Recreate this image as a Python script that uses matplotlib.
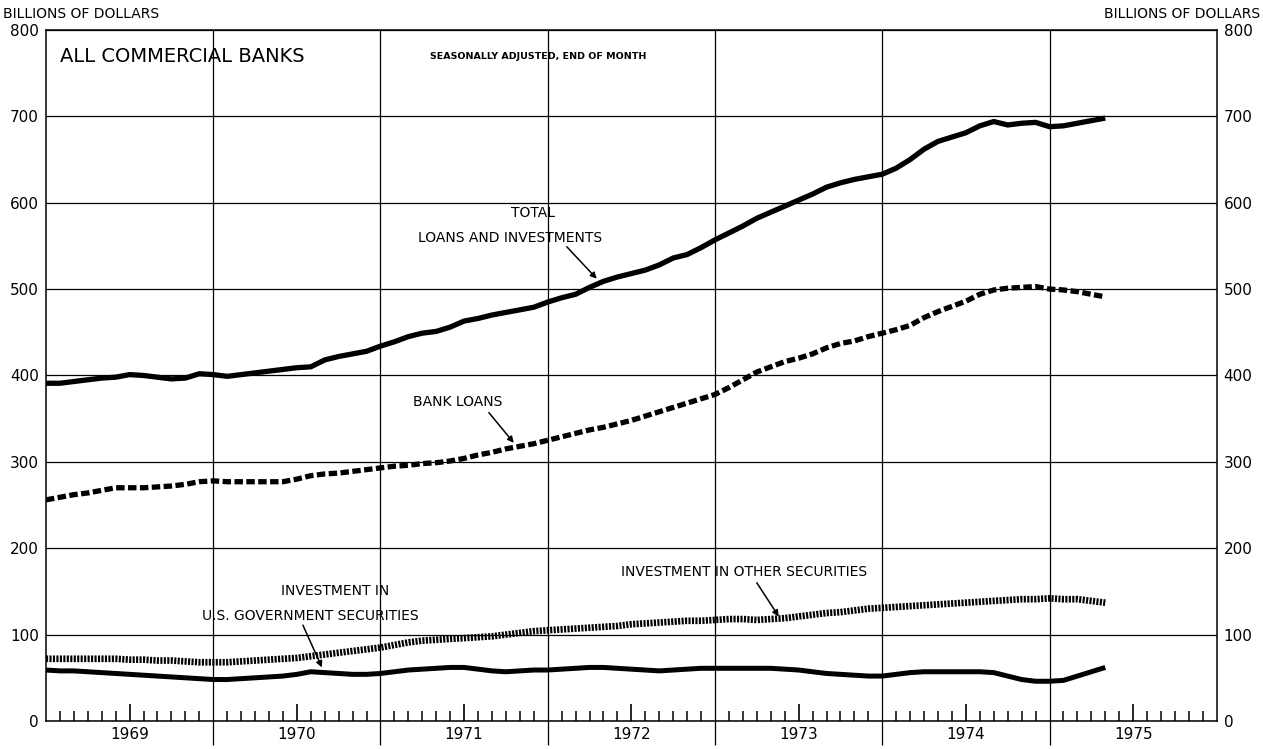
import numpy as np
import matplotlib.pyplot as plt

plt.rcParams['font.family'] = ['DejaVu Sans']

# monthly, Jan 1969 .. May 1975, billions of dollars
years = [1969, 1970, 1971, 1972, 1973, 1974, 1975]

total_loans_inv = [391, 391, 393, 395, 397, 398, 401, 400, 398, 396, 397, 402,
                   401, 399, 401, 403, 405, 407, 409, 410, 418, 422, 425, 428,
                   434, 439, 445, 449, 451, 456, 463, 466, 470, 473, 476, 479,
                   485, 490, 494, 502, 509, 514, 518, 522, 528, 536, 540, 548,
                   557, 565, 573, 582, 589, 596, 603, 610, 618, 623, 627, 630,
                   633, 640, 650, 662, 671, 676, 681, 689, 694, 690, 692, 693,
                   688, 689, 692, 695, 698]

bank_loans = [256, 259, 262, 264, 267, 270, 270, 270, 271, 272, 274, 277,
              278, 277, 277, 277, 277, 277, 280, 284, 286, 287, 289, 291,
              293, 295, 296, 298, 299, 301, 304, 308, 311, 315, 318, 321,
              325, 329, 333, 337, 340, 344, 348, 353, 358, 363, 368, 373,
              378, 386, 395, 404, 410, 416, 420, 425, 432, 437, 440, 445,
              449, 453, 458, 467, 474, 480, 486, 494, 499, 501, 502, 503,
              500, 499, 497, 494, 491]

other_securities = [72, 72, 72, 72, 72, 72, 71, 71, 70, 70, 69, 68,
                    68, 68, 69, 70, 71, 72, 73, 75, 77, 79, 81, 83,
                    85, 88, 91, 93, 94, 95, 96, 97, 98, 100, 102, 104,
                    105, 106, 107, 108, 109, 110, 112, 113, 114, 115, 116, 116,
                    117, 118, 118, 117, 118, 119, 121, 123, 125, 126, 128, 130,
                    131, 132, 133, 134, 135, 136, 137, 138, 139, 140, 141, 141,
                    142, 141, 141, 139, 137]

us_gov_securities = [59, 58, 58, 57, 56, 55, 54, 53, 52, 51, 50, 49,
                     48, 48, 49, 50, 51, 52, 54, 57, 56, 55, 54, 54,
                     55, 57, 59, 60, 61, 62, 62, 60, 58, 57, 58, 59,
                     59, 60, 61, 62, 62, 61, 60, 59, 58, 59, 60, 61,
                     61, 61, 61, 61, 61, 60, 59, 57, 55, 54, 53, 52,
                     52, 54, 56, 57, 57, 57, 57, 57, 56, 52, 48, 46,
                     46, 47, 52, 57, 62]

months = years[0] + np.arange(len(total_loans_inv)) / 12

fig = plt.figure(figsize=(12.63, 7.49), dpi=100)
ax = fig.add_axes([0.0364, 0.0374, 0.927, 0.9226])

# ── series ────────────────────────────────────────────
ax.plot(months, total_loans_inv, color='black', lw=3.8, solid_capstyle='butt')
ax.plot(months, bank_loans, color='black', lw=3.8, linestyle=(0, (1.6, 0.65)))
ax.plot(months, other_securities, color='black', lw=4.8, linestyle=(0, (0.32, 0.2)))
ax.plot(months, us_gov_securities, color='black', lw=3.6, solid_capstyle='butt')

# ── grid / frame ─────────────────────────────────────
ax.set_xlim(1969, 1976)
ax.set_ylim(0, 800)
ax.set_yticks(range(0, 900, 100))
ax.set_yticklabels([str(v) for v in range(0, 900, 100)])
ax.yaxis.grid(True, color='black', lw=0.9)
ax.set_axisbelow(True)
ax.vlines(years[1:], -28, 800, color='black', lw=0.9, clip_on=False)
for s in ax.spines.values():
    s.set_linewidth(1.1)

ax.set_xticks([y + 0.5 for y in years])
ax.set_xticklabels([str(y) for y in years])
minor = [y + m / 12 for y in years for m in range(1, 12) if m != 6]
ax.set_xticks(minor, minor=True)
ax.tick_params(axis='x', which='major', direction='in', length=12, width=1.2,
               pad=4, labelsize=11)
ax.tick_params(axis='x', which='minor', direction='in', length=7, width=1.1)
ax.tick_params(axis='y', length=0, pad=5, labelleft=True, labelright=True,
               labelsize=11)

# ── labels ───────────────────────────────────────────
fig.text(0.002, 0.981, 'BILLIONS OF DOLLARS', fontsize=10, ha='left', va='center')
fig.text(0.998, 0.981, 'BILLIONS OF DOLLARS', fontsize=10, ha='right', va='center')
ax.text(1969.084, 769, 'ALL COMMERCIAL BANKS', fontsize=14, ha='left', va='center')
ax.text(1971.295, 769, 'SEASONALLY ADJUSTED, END OF MONTH', fontsize=6.8,
        fontweight='bold', ha='left', va='center')

ax.text(1971.911, 588, 'TOTAL', fontsize=10, ha='center', va='center')
ax.text(1971.773, 559, 'LOANS AND INVESTMENTS', fontsize=10, ha='center', va='center')
ax.text(1971.463, 369, 'BANK LOANS', fontsize=10, ha='center', va='center')
ax.text(1970.727, 151, 'INVESTMENT IN', fontsize=10, ha='center', va='center')
ax.text(1970.578, 122, 'U.S. GOVERNMENT SECURITIES', fontsize=10, ha='center', va='center')
ax.text(1973.172, 173, 'INVESTMENT IN OTHER SECURITIES', fontsize=10, ha='center', va='center')

arrow = dict(arrowstyle='-|>', lw=1.1, color='black', mutation_scale=9,
             shrinkA=0, shrinkB=0)
ax.annotate('', xy=(1972.293, 512), xytext=(1972.114, 549), arrowprops=arrow)
ax.annotate('', xy=(1971.797, 322), xytext=(1971.648, 357), arrowprops=arrow)
ax.annotate('', xy=(1970.650, 62), xytext=(1970.536, 111), arrowprops=arrow)
ax.annotate('', xy=(1973.381, 121), xytext=(1973.250, 160), arrowprops=arrow)

fig.savefig('out.png', dpi=100)
